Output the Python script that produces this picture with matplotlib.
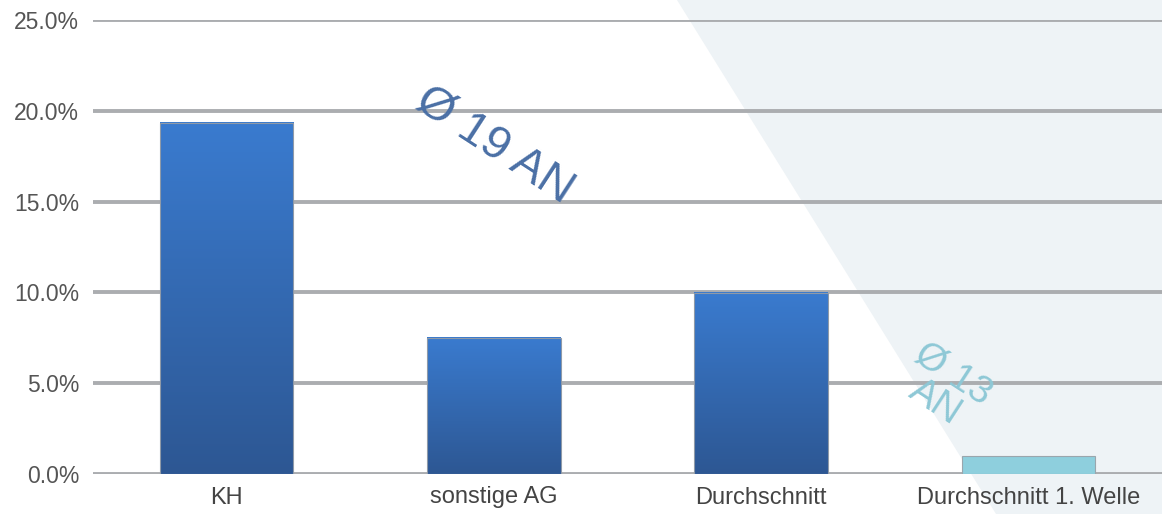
import numpy as np
import matplotlib
matplotlib.use("Agg")
import matplotlib.pyplot as plt
from matplotlib.patches import Polygon
from matplotlib.colors import LinearSegmentedColormap

plt.rcParams['font.family'] = ['Liberation Sans', 'DejaVu Sans']

categories = ["KH", "sonstige AG", "Durchschnitt", "Durchschnitt 1. Welle"]
values = [0.1933, 0.0749, 0.0997, 0.0099]
yticks = [0.0, 0.05, 0.10, 0.15, 0.20, 0.25]
annot_main = "Ø 19 AN"
annot_wave = "Ø 13\nAN"

W, H = 1162, 514
fig = plt.figure(figsize=(W / 100, H / 100), dpi=100)
fig.patch.set_facecolor("white")

# background axes with light wedge
bgax = fig.add_axes([0, 0, 1, 1], zorder=-1)
bgax.set_xlim(0, W)
bgax.set_ylim(H, 0)
bgax.axis("off")
bgax.add_patch(Polygon([(677, 0), (W, 0), (W, H), (996, H)], closed=True,
                       facecolor="#eef3f6", edgecolor="none"))

ax = fig.add_axes([93 / W, 1 - 474 / H, 1 - 93 / W, (474 - 20) / H], zorder=1)
ax.patch.set_alpha(0)

x = np.arange(len(categories))
width = 0.5
grad = LinearSegmentedColormap.from_list("g", ["#2d5793", "#3a7bcf"])
grad_img = np.linspace(0, 1, 256).reshape(-1, 1)

for i, v in enumerate(values):
    if i < 3:
        ax.imshow(grad_img, cmap=grad, origin="lower", aspect="auto",
                  extent=[x[i] - width / 2, x[i] + width / 2, 0, v], zorder=3,
                  interpolation="bilinear")
        ax.bar(x[i], v, width=width, facecolor="none", edgecolor="#8f9aa8",
               linewidth=0.8, zorder=4)
    else:
        ax.bar(x[i], v, width=width, color="#8ecfdd", edgecolor="#9aa6ad",
               linewidth=0.8, zorder=4)

ax.set_xlim(-0.5, len(categories) - 0.5)
ax.set_ylim(0, 0.25)
ax.set_yticks(yticks)
ax.set_yticklabels([f"{t * 100:.1f}%" for t in yticks])
ax.set_xticks(x)
ax.set_xticklabels(categories)
ax.tick_params(axis="y", length=0, pad=10, labelsize=16.5, labelcolor="#555555")
ax.tick_params(axis="x", length=0, pad=9, labelsize=17, labelcolor="#444444")
ax.yaxis.grid(True, color="#abadb0", linewidth=2.8, zorder=1)
ax.set_axisbelow(True)
for s in ax.spines.values():
    s.set_visible(False)
ax.set_xlim(-0.5, len(categories) - 0.5)
ax.set_ylim(0, 0.25)

fig.text(495 / W, 1 - 145 / H, annot_main, rotation=-33, fontsize=34,
         color="#4a6fa5", ha="center", va="center", rotation_mode="anchor", zorder=5)
fig.text(944 / W, 1 - 388 / H, annot_wave, rotation=-33, fontsize=28,
         color="#8ec8d6", ha="center", va="center", rotation_mode="anchor",
         linespacing=0.9, zorder=5)

fig.savefig("out.png", dpi=100)
